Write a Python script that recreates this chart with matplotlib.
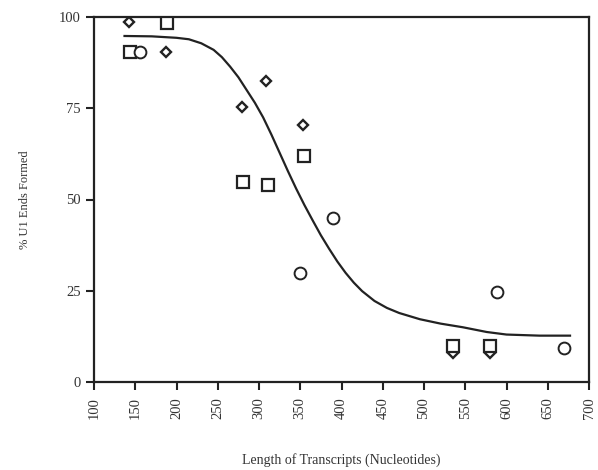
import matplotlib
matplotlib.use("Agg")
import matplotlib.pyplot as plt

plt.rcParams['font.family'] = ['Liberation Serif', 'DejaVu Serif']

# Data
diamond_x = [142, 187, 279, 308, 353, 535, 580]
diamond_y = [98.6, 90.4, 75.3, 82.5, 70.4, 8.0, 8.0]

square_x = [188, 144, 281, 311, 355, 535, 580]
square_y = [98.4, 90.4, 54.8, 54.0, 61.9, 9.9, 9.9]

circle_x = [156, 350, 390, 588, 670]
circle_y = [90.4, 29.9, 44.9, 24.7, 9.3]

curve_x = [137, 170, 200, 215, 230, 245, 255, 265, 275, 285, 295, 305, 315,
           325, 335, 345, 355, 365, 375, 385, 395, 405, 415, 425, 440, 455,
           470, 495, 520, 547, 576, 600, 640, 677]
curve_y = [94.8, 94.7, 94.3, 93.9, 92.8, 91.0, 89.0, 86.4, 83.5, 80.0, 76.5,
           72.5, 67.8, 62.8, 57.8, 53.0, 48.5, 44.3, 40.2, 36.5, 33.0, 29.9,
           27.2, 24.9, 22.2, 20.3, 18.9, 17.2, 16.0, 15.0, 13.7, 13.0, 12.7,
           12.7]

x_ticks = [100, 150, 200, 250, 300, 350, 400, 450, 500, 550, 600, 650, 700]
y_ticks = [0, 25, 50, 75, 100]

ink = '#222222'
txt = '#333333'

fig = plt.figure(figsize=(5.98, 4.70), dpi=100)
ax = fig.add_axes([94/598, 1 - 382/470, (589 - 94)/598, (382 - 17)/470])

ax.plot(curve_x, curve_y, color=ink, lw=1.6, zorder=2, solid_joinstyle='round')
ax.plot(diamond_x, diamond_y, linestyle='none', marker='D', markersize=5.5,
        markerfacecolor='white', markeredgecolor=ink, markeredgewidth=1.7, zorder=3)
ax.plot(square_x, square_y, linestyle='none', marker='s', markersize=8,
        markerfacecolor='white', markeredgecolor=ink, markeredgewidth=1.6, zorder=3)
ax.plot(circle_x, circle_y, linestyle='none', marker='o', markersize=8.5,
        markerfacecolor='white', markeredgecolor=ink, markeredgewidth=1.4, zorder=3)

ax.set_xlim(100, 700)
ax.set_ylim(0, 100)
ax.set_xticks(x_ticks)
ax.set_yticks(y_ticks)
ax.set_xticklabels([str(v) for v in x_ticks], rotation=90)
ax.tick_params(axis='both', direction='out', length=6, width=1.5, colors=ink,
               labelcolor=txt, labelsize=10.5)
ax.tick_params(axis='x', pad=5)
for s in ax.spines.values():
    s.set_linewidth(1.6)
    s.set_color(ink)

ax.set_xlabel('Length of Transcripts (Nucleotides)', fontsize=10, color=txt, labelpad=24)
ax.set_ylabel('% U1 Ends Formed', fontsize=9, color=txt, labelpad=20)

fig.savefig('out.png', dpi=100, facecolor='white')
